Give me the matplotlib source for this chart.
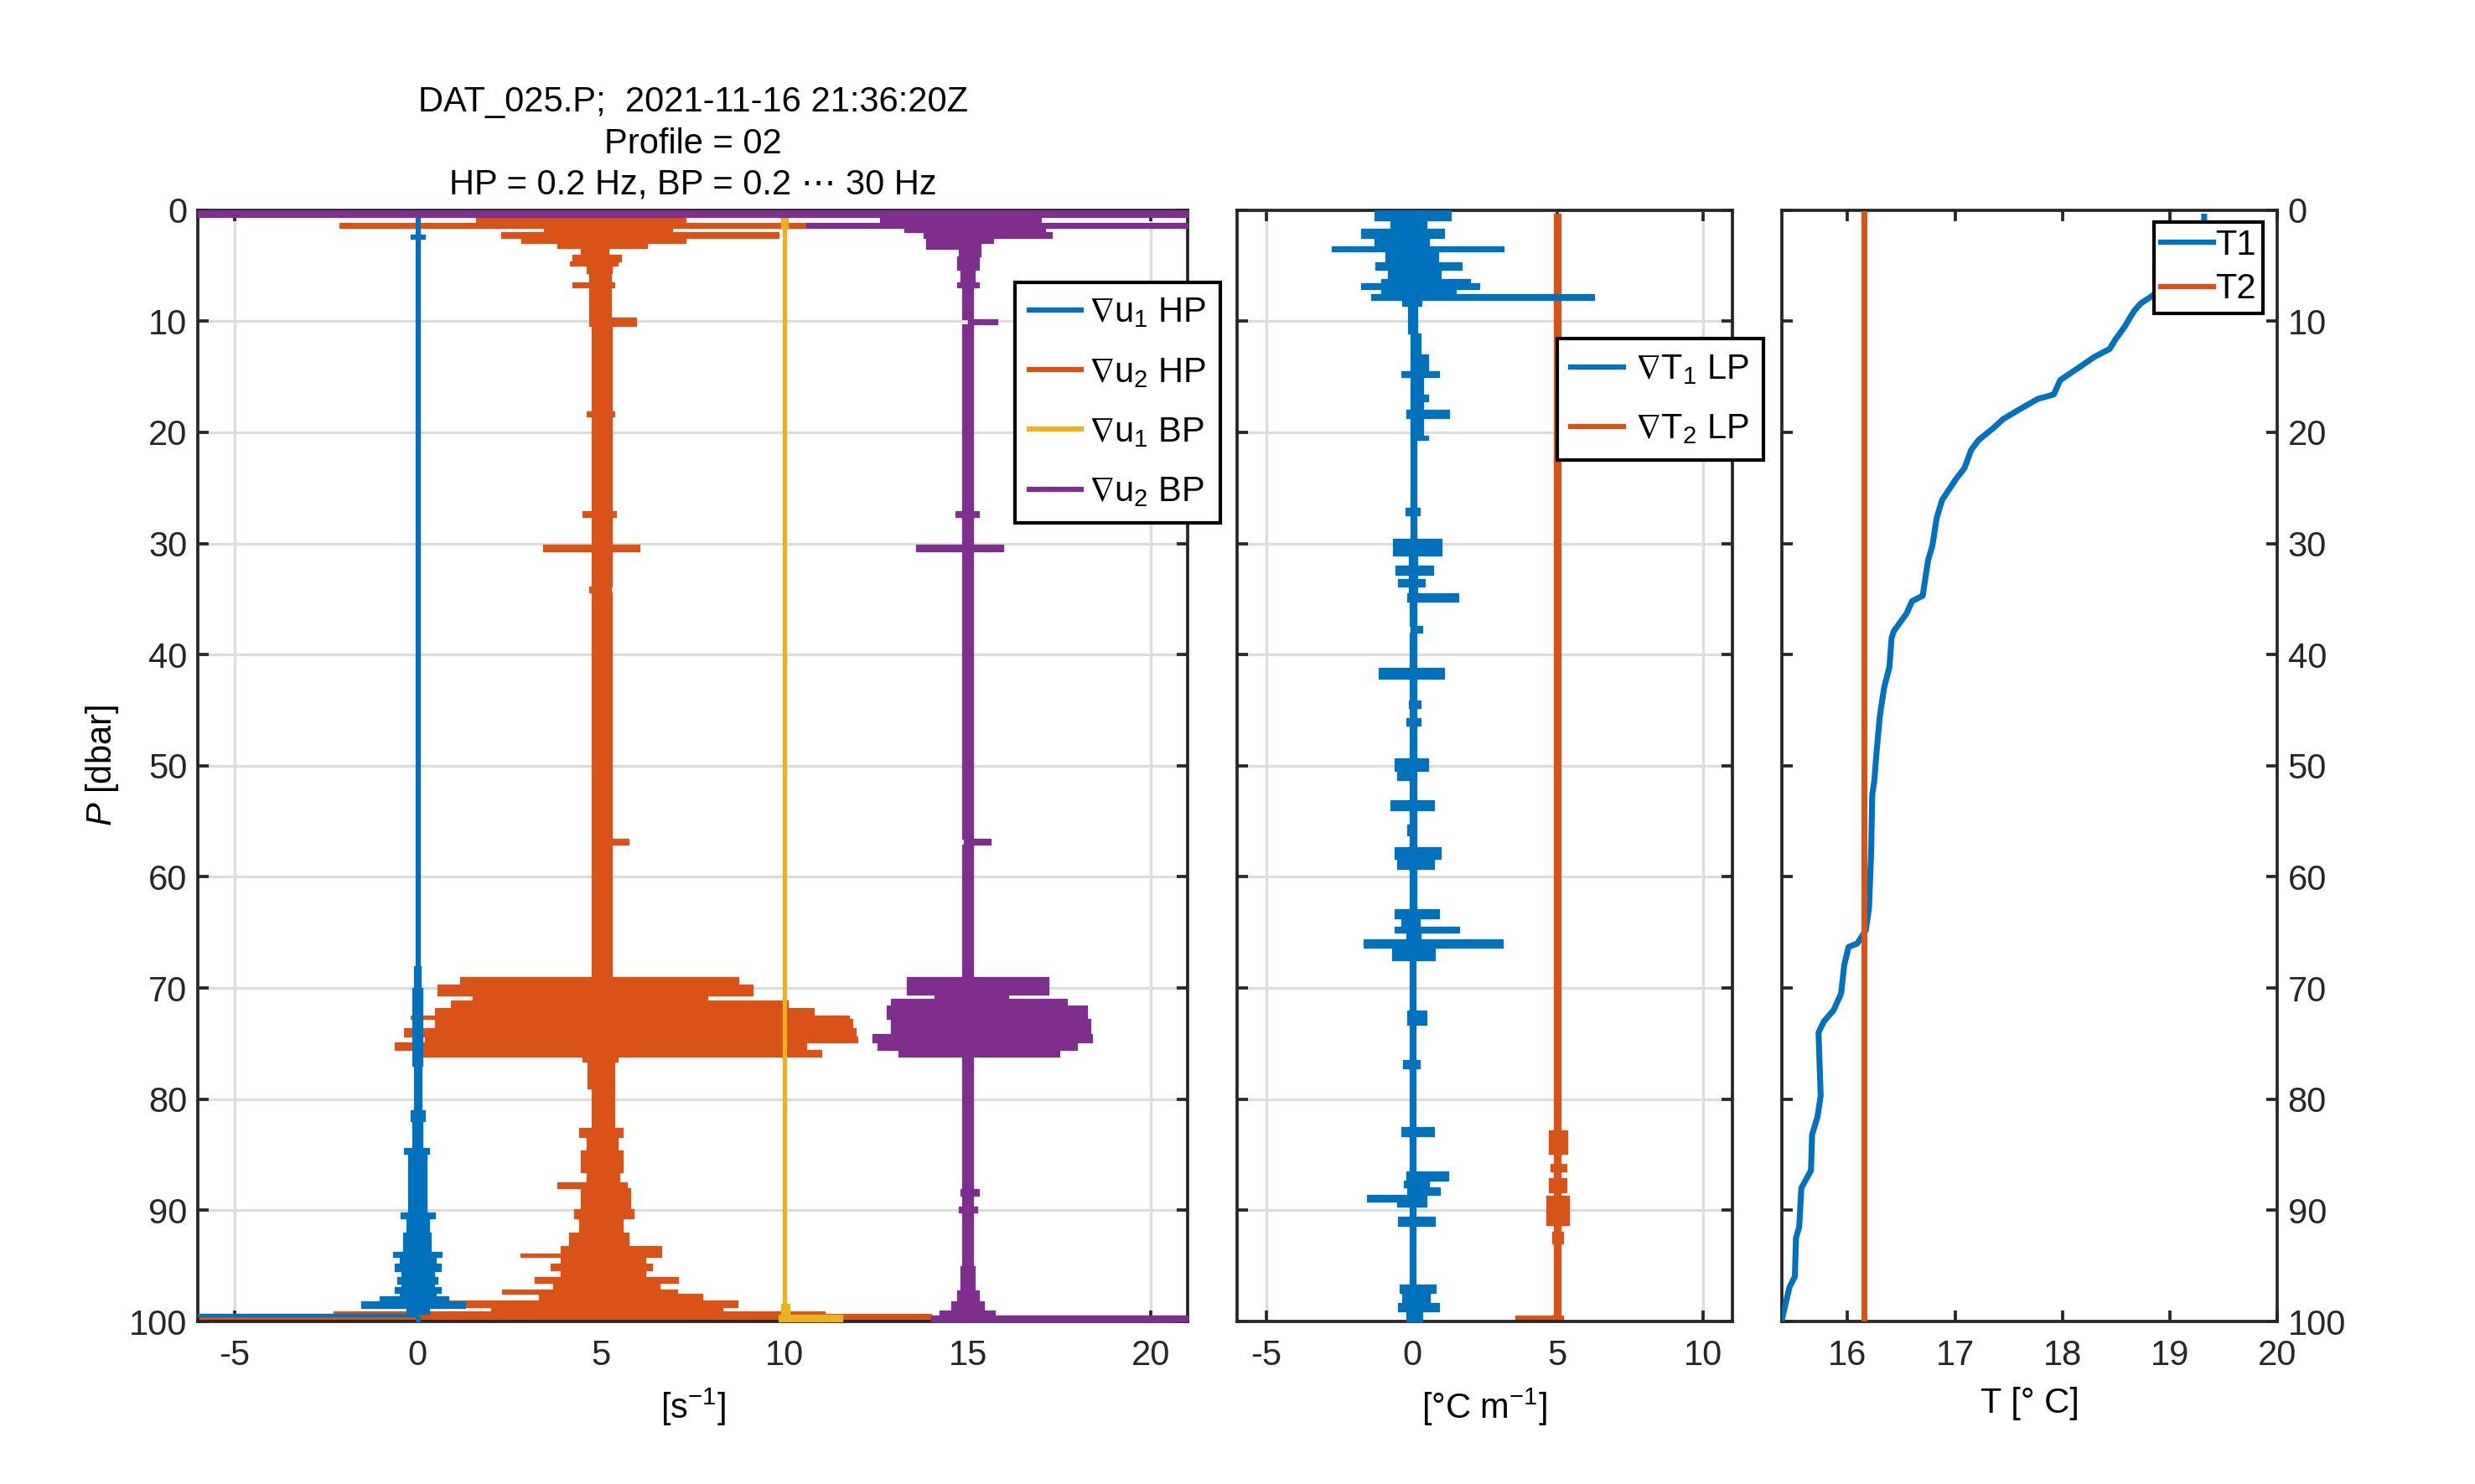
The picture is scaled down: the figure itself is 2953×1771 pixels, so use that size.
import numpy as np
import matplotlib
matplotlib.use('Agg')
import matplotlib.pyplot as plt
from matplotlib.lines import Line2D

# ---------------------------------------------------------------
# data
# every trace row = (P where the step starts [dbar], left edge, right edge)
# ---------------------------------------------------------------

# panel 1 : shear probes, offsets 0 / 5 / 10 / 15  [s^-1]
du1_hp = [
    (0.6, -0.05, 0.05), (2.2, -0.19, 0.20), (2.6, -0.05, 0.05),
    (68.0, -0.10, 0.08), (70.0, -0.15, 0.12), (77.0, -0.10, 0.10),
    (81.0, -0.20, 0.20), (82.0, -0.15, 0.12), (84.4, -0.37, 0.32),
    (84.9, -0.25, 0.25), (90.2, -0.47, 0.46), (90.7, -0.30, 0.30),
    (92.0, -0.40, 0.35), (93.7, -0.68, 0.66), (94.2, -0.50, 0.50),
    (94.8, -0.63, 0.63), (95.5, -0.45, 0.45), (96.0, -0.55, 0.55),
    (96.6, -0.45, 0.45), (96.9, -0.63, 0.63), (97.4, -0.50, 0.50),
    (97.7, -1.03, 0.84), (98.2, -1.54, 1.30), (98.8, -0.30, 0.30),
    (99.3, -6.00, 0.00), (99.55, -0.05, 0.05), (100.0, -0.05, 0.05),
]

du2_hp = [
    (0.45, 3.00, 6.50), (0.7, 1.60, 7.30), (1.13, -2.13, 10.63),
    (1.63, 3.45, 6.95), (2.0, 2.28, 9.84), (2.5, 2.83, 7.30),
    (3.0, 3.80, 6.25), (3.4, 4.45, 5.20), (4.0, 4.23, 5.55),
    (4.65, 4.14, 5.45), (5.0, 4.60, 5.30), (5.7, 4.67, 5.28),
    (6.5, 4.23, 5.37), (7.0, 4.67, 5.28), (9.7, 4.67, 5.95),
    (10.4, 4.75, 5.30), (18.1, 4.60, 5.36), (18.6, 4.75, 5.30),
    (27.1, 4.50, 5.40), (27.6, 4.75, 5.30), (30.1, 3.43, 6.05),
    (30.7, 4.75, 5.30), (33.9, 4.67, 5.27), (34.4, 4.75, 5.30),
    (56.6, 4.75, 5.74), (57.1, 4.75, 5.30), (69.0, 1.16, 8.75),
    (69.7, 0.55, 9.14), (70.7, 1.51, 7.90), (71.1, 0.90, 10.10),
    (71.8, 0.46, 10.80), (72.5, -0.19, 11.77), (72.8, 0.46, 11.85),
    (73.6, -0.38, 11.94), (74.4, 0.20, 12.00), (74.9, -0.62, 10.60),
    (75.6, 0.08, 11.00), (76.2, 4.50, 5.45), (76.6, 4.62, 5.36),
    (79.0, 4.75, 5.36), (82.6, 4.40, 5.60), (83.4, 4.60, 5.45),
    (84.6, 4.45, 5.60), (86.6, 4.60, 5.50), (87.5, 3.80, 5.70),
    (88.0, 4.45, 5.80), (89.9, 4.27, 5.88), (90.7, 4.40, 5.60),
    (92.0, 4.12, 5.75), (93.2, 3.90, 6.65), (93.9, 2.80, 6.65),
    (94.2, 3.90, 6.20), (94.8, 3.63, 6.40), (95.4, 3.90, 6.20),
    (96.0, 3.20, 7.10), (96.5, 3.70, 6.60), (97.1, 2.30, 7.08),
    (97.5, 3.30, 7.77), (98.1, -0.33, 8.72), (98.7, 2.00, 8.30),
    (99.1, -2.30, 11.10), (99.3, -6.00, 14.00), (99.45, -6.00, 21.00),
    (99.55, -6.00, 14.00), (100.0, -6.00, 14.00),
]

du1_bp = [
    (0.6, 9.90, 10.10), (1.7, 9.95, 10.05), (98.4, 9.90, 10.15),
    (99.4, 9.85, 11.57), (100.0, 9.85, 11.57),
]

du2_bp = [
    (0.0, -6.00, 21.00), (0.63, 12.60, 17.00), (1.13, 10.60, 21.00),
    (1.63, 13.26, 17.10), (2.0, 13.80, 17.30), (2.5, 13.87, 15.70),
    (3.0, 13.87, 15.36), (3.5, 14.75, 15.36), (4.2, 14.70, 15.30),
    (5.4, 14.80, 15.20), (6.5, 14.70, 15.30), (7.0, 14.85, 15.15),
    (9.8, 15.00, 15.80), (10.3, 14.85, 15.15), (27.1, 14.67, 15.31),
    (27.6, 14.85, 15.15), (30.1, 13.59, 15.97), (30.7, 14.85, 15.15),
    (56.6, 14.90, 15.62), (57.1, 14.85, 15.15), (69.0, 13.35, 17.20),
    (70.6, 14.10, 16.10), (71.0, 12.90, 17.70), (71.6, 12.80, 18.25),
    (72.8, 12.90, 18.34), (74.1, 12.40, 18.40), (74.9, 12.55, 17.99),
    (75.6, 13.10, 17.50), (76.2, 14.85, 15.15), (88.1, 14.80, 15.30),
    (88.7, 14.85, 15.15), (89.7, 14.75, 15.25), (90.2, 14.85, 15.15),
    (95.0, 14.80, 15.20), (97.2, 14.70, 15.30), (98.2, 14.55, 15.45),
    (99.0, 14.24, 15.75), (99.5, 14.00, 21.00), (100.0, 14.00, 21.00),
]

# panel 2 : thermistor gradients, offsets 0 / 5  [degC m^-1]
dT1_lp = [
    (0.0, -1.27, 1.33), (0.9, -0.72, 0.50), (1.7, -1.74, 1.10),
    (2.5, -1.27, 0.60), (3.3, -2.75, 3.15), (3.7, -0.90, 0.90),
    (4.7, -1.25, 1.70), (5.4, -0.83, 1.00), (6.2, -1.05, 2.00),
    (6.6, -1.74, 2.32), (7.1, -1.05, 1.50), (7.6, -1.40, 6.25),
    (8.1, -0.33, 0.33), (8.6, -0.12, 0.20), (11.1, -0.05, 0.30),
    (13.0, -0.05, 0.55), (14.5, -0.36, 0.94), (15.0, -0.05, 0.40),
    (16.6, -0.05, 0.55), (17.2, -0.05, 0.40), (18.0, -0.19, 1.27),
    (18.7, -0.05, 0.40), (20.3, -0.05, 0.57), (20.7, -0.05, 0.15),
    (26.8, -0.22, 0.28), (27.5, -0.05, 0.15), (29.6, -0.64, 1.03),
    (31.1, -0.10, 0.20), (32.0, -0.57, 0.74), (32.8, -0.10, 0.20),
    (33.2, -0.46, 0.44), (33.9, -0.10, 0.20), (34.5, -0.17, 1.60),
    (35.2, -0.08, 0.17), (37.4, -0.05, 0.37), (38.0, -0.08, 0.17),
    (41.2, -1.13, 1.10), (42.2, -0.08, 0.17), (44.1, -0.10, 0.30),
    (44.8, -0.08, 0.17), (45.7, -0.20, 0.30), (46.4, -0.08, 0.17),
    (49.3, -0.60, 0.55), (50.5, -0.50, 0.17), (51.3, -0.08, 0.17),
    (53.1, -0.74, 0.75), (54.0, -0.08, 0.17), (55.3, -0.17, 0.17),
    (56.3, -0.08, 0.17), (57.3, -0.60, 1.00), (58.4, -0.50, 0.75),
    (59.3, -0.08, 0.15), (62.9, -0.60, 0.94), (63.7, -0.37, 0.27),
    (64.5, -0.60, 1.62), (65.0, -0.20, 0.30), (65.6, -1.66, 3.13),
    (66.4, -0.68, 0.80), (67.5, -0.08, 0.13), (72.0, -0.17, 0.50),
    (73.3, -0.08, 0.13), (76.5, -0.30, 0.27), (77.2, -0.08, 0.13),
    (82.5, -0.35, 0.75), (83.3, -0.08, 0.13), (86.5, -0.20, 1.25),
    (87.3, -0.28, 0.60), (87.9, -0.17, 0.97), (88.6, -1.55, 0.50),
    (89.2, -0.50, 0.50), (89.7, -0.08, 0.13), (90.6, -0.48, 0.80),
    (91.4, -0.08, 0.13), (96.7, -0.41, 0.81), (97.4, -0.33, 0.61),
    (98.3, -0.46, 0.94), (99.1, -0.19, 0.37), (100.0, -0.19, 0.37),
]

dT2_lp = [
    (0.3, 4.89, 5.11), (82.8, 4.70, 5.35), (84.9, 4.89, 5.11),
    (85.8, 4.75, 5.30), (86.5, 4.89, 5.11), (87.1, 4.70, 5.30),
    (88.4, 4.89, 5.11), (88.7, 4.63, 5.40), (91.3, 4.89, 5.11),
    (91.9, 4.82, 5.20), (93.0, 4.89, 5.11), (99.5, 3.54, 5.20),
    (100.0, 3.54, 5.20),
]

# panel 3 : temperature profiles
t1_p = [0.6, 1.2, 3.0, 5.5, 7.3, 7.9, 8.4, 9.06, 9.83, 10.5, 11.7, 12.5,
        13.2, 14.2, 15.3, 16.6, 17.0, 18.0, 18.8, 19.6, 20.7, 21.6, 23.2,
        24.2, 26.1, 27.7, 30.2, 31.5, 33.4, 34.7, 35.2, 36.3, 37.9, 38.5,
        41.1, 43.0, 45.6, 48.8, 51.3, 52.6, 57.7, 62.8, 64.8, 66.0, 66.3,
        67.9, 70.5, 72.0, 73.0, 74.0, 79.7, 81.6, 83.2, 86.4, 88.0, 91.5,
        92.5, 95.96, 96.9, 99.8]
t1_t = [19.32, 19.32, 19.20, 19.05, 18.90, 18.81, 18.73, 18.67, 18.62,
        18.58, 18.49, 18.44, 18.30, 18.15, 17.98, 17.92, 17.77, 17.59,
        17.45, 17.36, 17.22, 17.15, 17.09, 17.01, 16.88, 16.83, 16.79,
        16.75, 16.72, 16.70, 16.60, 16.55, 16.43, 16.41, 16.39, 16.34,
        16.30, 16.27, 16.25, 16.23, 16.22, 16.20, 16.17, 16.09, 16.01,
        15.97, 15.94, 15.87, 15.78, 15.73, 15.75, 15.72, 15.67, 15.66,
        15.57, 15.55, 15.52, 15.51, 15.46, 15.39]
t2_p = [0.3, 100.0]
t2_t = [16.15, 16.15]

title_lines = ['DAT_025.P;  2021-11-16 21:36:20Z', 'Profile = 02',
               'HP = 0.2 Hz, BP = 0.2 \u22ef 30 Hz']

C_BLUE = '#0072BD'
C_ORANGE = '#D95319'
C_YELLOW = '#EDB120'
C_PURPLE = '#7E2F8E'
C_AX = '#262626'

plt.rcParams['font.family'] = ['Liberation Sans', 'DejaVu Sans']
plt.rcParams['mathtext.fontset'] = 'custom'
plt.rcParams['mathtext.rm'] = 'Liberation Sans'
plt.rcParams['mathtext.it'] = 'Liberation Sans:italic'
plt.rcParams['mathtext.bf'] = 'Liberation Sans:bold'
plt.rcParams['mathtext.fallback'] = 'stixsans'
plt.rcParams['axes.unicode_minus'] = False
plt.rcParams['font.size'] = 10


def draw_trace(ax, rows, color, z):
    p, lo, hi = np.array(rows).T
    ax.fill_betweenx(p, lo, hi, step='post', facecolor=color,
                     edgecolor=color, lw=0.3, zorder=z)


def style_axes(ax, xlim, xticks, grid=True):
    ax.set_xlim(*xlim)
    ax.set_ylim(100, 0)
    ax.set_xticks(xticks)
    ax.set_yticks(range(0, 101, 10))
    ax.tick_params(direction='in', length=3.2, width=0.9, color=C_AX,
                   labelcolor=C_AX, top=True, right=True, labelsize=10)
    ax.tick_params(axis='x', pad=5)
    ax.tick_params(axis='y', pad=3)
    for s in ax.spines.values():
        s.set_linewidth(0.9)
        s.set_color(C_AX)
    if grid:
        ax.grid(True, color='#dcdcdc', lw=0.8)
    ax.set_axisbelow(True)


def legend(ax, handles, labels, loc, anchor, tpad, lspace, bpad):
    lg = ax.legend(handles, labels, loc=loc, bbox_to_anchor=anchor,
                   borderaxespad=0, fancybox=False, framealpha=1,
                   edgecolor='black', fontsize=10, handlelength=1.5,
                   handletextpad=tpad, labelspacing=lspace, borderpad=bpad)
    lg.get_frame().set_linewidth(1.0)
    lg.set_zorder(20)
    return lg


fig = plt.figure(figsize=(2953 / 300, 1771 / 300), dpi=300)
ax1 = fig.add_axes([0.0799, 0.1095, 0.4000, 0.7490])
ax2 = fig.add_axes([0.4998, 0.1095, 0.2001, 0.7490])
ax3 = fig.add_axes([0.7200, 0.1095, 0.2001, 0.7490])

# ---- panel 1 ----
style_axes(ax1, (-6, 21), [-5, 0, 5, 10, 15, 20])
draw_trace(ax1, du2_hp, C_ORANGE, 2)
draw_trace(ax1, du1_hp, C_BLUE, 3)
draw_trace(ax1, du1_bp, C_YELLOW, 4)
draw_trace(ax1, du2_bp, C_PURPLE, 5)
ax1.set_ylabel('$P$ [dbar]', labelpad=2.4)
ax1.set_xlabel('[s$^{-1}$]', labelpad=4)
ax1.set_title('\n'.join(title_lines), fontsize=10, linespacing=1.3, pad=4.5)
h1 = [Line2D([], [], color=c, lw=1.5) for c in (C_BLUE, C_ORANGE, C_YELLOW, C_PURPLE)]
legend(ax1, h1, [r'$\nabla$u$_1$ HP', r'$\nabla$u$_2$ HP',
                 r'$\nabla$u$_1$ BP', r'$\nabla$u$_2$ BP'],
       'upper left', (0.8256, 0.935), 0.2, 0.75, 0.4)

# ---- panel 2 ----
style_axes(ax2, (-6, 11), [-5, 0, 5, 10])
ax2.tick_params(labelleft=False)
draw_trace(ax2, dT2_lp, C_ORANGE, 2)
draw_trace(ax2, dT1_lp, C_BLUE, 3)
ax2.set_xlabel('[\u00b0C m$^{-1}$]', labelpad=4)
h2 = [Line2D([], [], color=c, lw=1.5) for c in (C_BLUE, C_ORANGE)]
legend(ax2, h2, [r'$\nabla$T$_1$ LP', r'$\nabla$T$_2$ LP'],
       'upper left', (0.646, 0.884), 0.35, 0.75, 0.4)

# ---- panel 3 ----
style_axes(ax3, (15.39, 20), [16, 17, 18, 19, 20], grid=False)
ax3.tick_params(labelleft=False, labelright=True)
ax3.plot(t1_t, t1_p, color=C_BLUE, lw=1.7, zorder=3)
ax3.plot(t2_t, t2_p, color=C_ORANGE, lw=1.7, zorder=3)
ax3.set_xlabel('T [\u00b0 C]', labelpad=4)
h3 = [Line2D([], [], color=c, lw=1.5) for c in (C_BLUE, C_ORANGE)]
legend(ax3, h3, ['T1', 'T2'], 'upper right', (0.971, 0.9895), 0.05, 0.3, 0.2)

fig.savefig('out.png', dpi=300)
